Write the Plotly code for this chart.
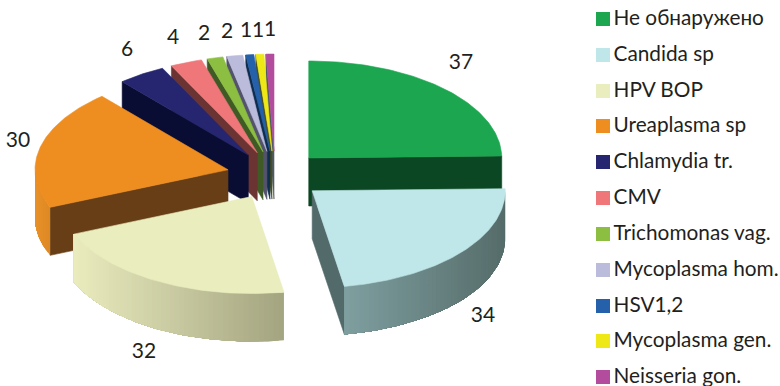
import math
import plotly.graph_objects as go

# Detected organisms and case counts
categories = ["Не обнаружено", "Candida sp", "HPV ВОР", "Ureaplasma sp", "Chlamydia tr.", "CMV",
              "Trichomonas vag.", "Mycoplasma hom.", "HSV1,2", "Mycoplasma gen.", "Neisseria gon."]
values = [37, 34, 32, 30, 6, 4, 2, 2, 1, 1, 1]

top_colors = ["#1BA64F", "#BFE6E8", "#EAEDBE", "#EE8D20", "#25266F", "#EF777A",
              "#8CBF41", "#BBBBDB", "#2560AA", "#EDE816", "#B44C9E"]
cut_colors = ["#0B4723", "#536A6B", "#A3A480", "#673E15", "#0A0D33", "#6B3432",
              "#3F5A25", "#53536B", "#0F2D4D", "#4C4F1A", "#4E5A6A"]
# Outer rim gradient, left colour to right colour
rim_colors = [("#0B4723", "#0B4723"), ("#7F9FA0", "#556C6A"), ("#EAECBE", "#A3A480"), ("#E9912A", "#DD8823"),
              ("#0A0D33", "#0A0D33"), ("#6B3432", "#6B3432"), ("#3F5A25", "#3F5A25"), ("#53536B", "#53536B"),
              ("#0F2D4D", "#0F2D4D"), ("#4C4F1A", "#4C4F1A"), ("#4E5A6A", "#4E5A6A")]

label_x = [461, 483, 144, 18, 127, 173, 204, 227, 246, 258, 270]
label_y = [64, 317, 353, 142, 51, 39, 35, 33, 32, 32, 31]

legend_y = [20, 56, 92, 127, 163, 199, 235, 271, 307, 342, 378]

# Pie projection, in screen pixels
CX, CY = 275.0, 175.3
RX, RY = 193.0, 97.0
PULL = 0.25
DEPTH = 48.0
draw_order = [10, 9, 8, 7, 6, 5, 4, 3, 0, 1, 2]


def hex_rgb(c):
    return tuple(int(c[i:i + 2], 16) for i in (1, 3, 5))


def mix(a, b, t):
    ca, cb = hex_rgb(a), hex_rgb(b)
    return "#%02X%02X%02X" % tuple(round(p + (q - p) * t) for p, q in zip(ca, cb))


def rim_point(apex, deg):
    r = math.radians(deg)
    return apex[0] + RX * math.sin(r), apex[1] - RY * math.cos(r)


fig = go.Figure()


def polygon(xs, ys, color, width=0.6):
    fig.add_trace(go.Scatter(
        x=list(xs) + [xs[0]], y=list(ys) + [ys[0]], mode="lines", fill="toself",
        fillcolor=color, line=dict(color=color, width=width), hoverinfo="skip", showlegend=False))


def draw_slice(i, start, end):
    mid = math.radians((start + end) / 2)
    apex = (CX + PULL * RX * math.sin(mid), CY - PULL * RY * math.cos(mid))

    # Cut faces that turn toward the viewer
    for deg, visible in ((start, math.sin(math.radians(start)) < 0),
                         (end, math.sin(math.radians(end)) > 0)):
        if visible:
            px, py = rim_point(apex, deg)
            polygon([apex[0], px, px, apex[0]],
                    [apex[1], py, py + DEPTH, apex[1] + DEPTH], cut_colors[i])

    # Outer rim, front half only. Each gradient band runs on to the far end of the
    # arc and the next band paints over it, which keeps seams from showing.
    lo, hi = max(start, 90.0), min(end, 270.0)
    if hi > lo:
        n = max(2, int((hi - lo) / 1.5))
        angles = [lo + (hi - lo) * k / n for k in range(n + 1)]
        pts = [rim_point(apex, a) for a in angles]
        xmin, xmax = min(p[0] for p in pts), max(p[0] for p in pts)
        for k in range(n):
            band = pts[k:]
            t = ((pts[k][0] + pts[k + 1][0]) / 2 - xmin) / max(xmax - xmin, 1e-6)
            polygon([p[0] for p in band] + [p[0] for p in reversed(band)],
                    [p[1] for p in band] + [p[1] + DEPTH for p in reversed(band)],
                    mix(rim_colors[i][0], rim_colors[i][1], t), width=0)

    # Top face
    n = max(4, int(end - start))
    arc = [rim_point(apex, start + (end - start) * k / n) for k in range(n + 1)]
    polygon([apex[0]] + [p[0] for p in arc], [apex[1]] + [p[1] for p in arc], top_colors[i])


total = sum(values)
bounds = [0.0]
for v in values:
    bounds.append(bounds[-1] + v / total * 360.0)

for i in draw_order:
    draw_slice(i, bounds[i], bounds[i + 1])

# Value labels
fig.add_trace(go.Scatter(
    x=label_x, y=label_y, mode="text", text=[str(v) for v in values], textposition="middle center",
    textfont=dict(family="Lato, 'Open Sans', sans-serif", size=21, color="#231F20"),
    hoverinfo="skip", showlegend=False))

# Legend column
fig.add_trace(go.Scatter(
    x=[603] * len(categories), y=[y - 1 for y in legend_y], mode="markers",
    marker=dict(symbol="square", size=14, color=top_colors, line=dict(width=0)),
    hoverinfo="skip", showlegend=False))
fig.add_trace(go.Scatter(
    x=[613.5] * len(categories), y=legend_y, mode="text", text=categories, textposition="middle right",
    textfont=dict(family="Lato, 'Open Sans', sans-serif", size=20.8, color="#231F20"),
    hoverinfo="skip", showlegend=False))

fig.update_layout(
    width=780, height=386, margin=dict(l=0, r=0, t=0, b=0),
    paper_bgcolor="white", plot_bgcolor="white", showlegend=False,
    xaxis=dict(range=[0, 780], visible=False, fixedrange=True),
    yaxis=dict(range=[386, 0], visible=False, fixedrange=True),
)
fig.write_html("out.html", config={"displayModeBar": False})
